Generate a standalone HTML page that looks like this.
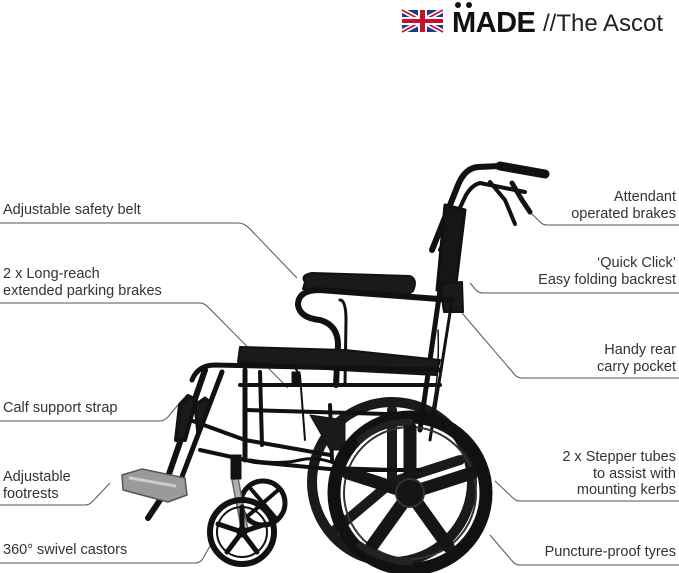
<!DOCTYPE html>
<html><head><meta charset="utf-8"><style>
html,body{margin:0;padding:0;background:#fff;}
body{width:679px;height:573px;position:relative;overflow:hidden;font-family:"Liberation Sans",sans-serif;color:#333;}
.t{position:absolute;font-size:14.5px;line-height:16.5px;white-space:nowrap;}
.r{text-align:right;right:3px;}
.l{left:3px;}
svg{position:absolute;left:0;top:0;}
</style></head><body>
<svg width="679" height="573" viewBox="0 0 679 573">
<g transform="translate(402,10)">
<rect width="41" height="22" fill="#1d3a8a"/>
<path d="M0 0L41 22M41 0L0 22" stroke="#fff" stroke-width="5"/>
<path d="M0 0L41 22M41 0L0 22" stroke="#c8102e" stroke-width="1.6"/>
<rect x="16" width="9" height="22" fill="#fff"/><rect y="7" width="41" height="8" fill="#fff"/>
<rect x="18" width="5" height="22" fill="#c8102e"/><rect y="9" width="41" height="4" fill="#c8102e"/>
</g>
<text x="452" y="32" font-family="Liberation Sans" font-weight="bold" font-size="29" fill="#111" letter-spacing="-0.5">MADE</text>
<circle cx="458" cy="5" r="3" fill="#111"/><circle cx="469" cy="5" r="3" fill="#111"/>
<text x="543" y="31" font-family="Liberation Sans" font-size="24" fill="#222">//The Ascot</text>

<g stroke="#555" stroke-width="1" fill="none">
<path d="M0 223H238Q244 223 249 228L297 278"/>
<path d="M0 303H200Q204 303 208 307L288 388"/>
<path d="M0 421H160Q164 421 168 417L182 400"/>
<path d="M0 505H85Q89 505 92 502L110 483"/>
<path d="M0 563H195Q199 563 202 560L210 546"/>
<path d="M679 225H547Q543 225 540 222L530 212"/>
<path d="M679 293H483Q479 293 476 290L470 283"/>
<path d="M679 378H522Q518 378 515 375L462 313"/>
<path d="M679 501H520Q516 501 513 498L495 481"/>
<path d="M679 565H520Q516 565 513 562L490 535"/>
</g>

<g stroke="#111" fill="none" stroke-linecap="round" stroke-linejoin="round">
<!-- far rear wheel -->
<circle cx="392" cy="482" r="80" stroke="#1a1a1a" stroke-width="10"/>
<path d="M392 482L392 410M392 482L460 460M392 482L335 530" stroke="#1a1a1a" stroke-width="10"/>
<path d="M432 250L458 185Q465 168 478 167L500 166" stroke-width="6"/>
<path d="M500 166L545 174" stroke-width="9"/>
<path d="M440 250L466 195Q472 185 480 183L525 192" stroke-width="4"/>
<path d="M490 182L505 200L515 224" stroke-width="4"/>
<path d="M512 183L522 200L530 212" stroke-width="5"/>
<path d="M445 205L465 210L455 292L437 290Z" fill="#161616" stroke-width="3"/>
<path d="M440 284L462 282L463 312L444 312Z" fill="#1a1a1a" stroke-width="2"/>
<path d="M440 290L420 430" stroke-width="5"/>
<path d="M452 300L430 440" stroke-width="3"/>
<path d="M438 330Q440 380 430 420" stroke-width="1.5"/>
<path d="M305 282Q300 275 312 273L410 276Q418 279 413 291L405 297L303 289Z" fill="#1a1a1a" stroke-width="2"/>
<path d="M452 300L320 290Q298 290 298 305Q300 318 320 320Q338 325 338 345L336 385" stroke-width="6"/>
<path d="M340 300Q346 300 346 320L345 385" stroke-width="3"/>
<path d="M240 347L345 350L440 360L436 375L340 370L238 362Z" fill="#1a1a1a" stroke-width="2"/>
<path d="M192 380Q198 365 215 365L440 370" stroke-width="5"/>
<path d="M240 385L440 385" stroke-width="4"/>
<path d="M245 410L420 415" stroke-width="4"/>
<path d="M205 370L160 500" stroke-width="6"/>
<path d="M222 372L175 495" stroke-width="5"/>
<path d="M245 370L245 460" stroke-width="5"/>
<path d="M260 372L262 445" stroke-width="4"/>
<path d="M190 420L245 440L330 455" stroke-width="4"/>
<path d="M200 450L255 462L340 470L420 470" stroke-width="4"/>
<path d="M250 460Q280 465 300 460Q320 455 345 468L410 470" stroke-width="3"/>
<path d="M330 405L332 460" stroke-width="4"/>
<path d="M180 405L188 396L196 400L185 440L176 440Z" fill="#1a1a1a" stroke-width="4"/>
<path d="M195 405L205 398L210 402L198 435Z" fill="#1a1a1a" stroke-width="3"/>
<path d="M160 500L148 518" stroke-width="6"/>
<path d="M295 368L300 375L305 440" stroke-width="2"/>
<rect x="292" y="372" width="8" height="12" fill="#111" stroke-width="1"/>
<path d="M310 415L345 420L345 450L330 450Z" fill="#1a1a1a" stroke-width="1"/>
<path d="M122 475L142 469L185 478L187 495L168 502L123 490Z" fill="#9a9a9a" stroke="#555" stroke-width="1.5"/>
<path d="M130 478L175 486" stroke="#ccc" stroke-width="3"/>
<circle cx="263" cy="503" r="22" stroke-width="5"/>
<path d="M263 503l14 -12M263 503l-14 12M263 503l12 14M263 503l-12 -14" stroke-width="4"/>
<path d="M232 480L238 478L248 530L242 532Z" fill="#b0b0b0" stroke="#666" stroke-width="1.5"/>
<rect x="231" y="455" width="10" height="24" fill="#111" stroke-width="1"/>
<circle cx="242" cy="532" r="32" stroke-width="6"/>
<circle cx="242" cy="532" r="25" stroke-width="2"/>
<g stroke-width="5">
<path d="M242 532L242 507M242 532L266 524M242 532L257 552M242 532L227 552M242 532L218 524"/>
</g>
<circle cx="242" cy="532" r="5" fill="#111"/>
<!-- rear wheel -->
<circle cx="410" cy="493" r="76" stroke-width="13"/>
<circle cx="410" cy="493" r="66" stroke="#333" stroke-width="2"/>
<g stroke-width="13" stroke="#151515">
<path d="M410 493L410 428M410 493L472 473M410 493L448 546M410 493L372 546M410 493L348 473"/>
</g>
<path d="M360 440Q380 422 410 422M360 545Q380 560 410 562" stroke="#222" stroke-width="7"/>
<circle cx="410" cy="493" r="14" fill="#151515" stroke="#333" stroke-width="2"/>
</g>
</svg>

<div class="t l" style="top:202px">Adjustable safety belt</div>
<div class="t l" style="top:266px">2 x Long-reach<br>extended parking brakes</div>
<div class="t l" style="top:400px">Calf support strap</div>
<div class="t l" style="top:469px">Adjustable<br>footrests</div>
<div class="t l" style="top:542px">360° swivel castors</div>
<div class="t r" style="top:189px">Attendant<br>operated brakes</div>
<div class="t r" style="top:255px">‘Quick Click’<br>Easy folding backrest</div>
<div class="t r" style="top:342px">Handy rear<br>carry pocket</div>
<div class="t r" style="top:449px">2 x Stepper tubes<br>to assist with<br>mounting kerbs</div>
<div class="t r" style="top:544px">Puncture-proof tyres</div>
</body></html>
